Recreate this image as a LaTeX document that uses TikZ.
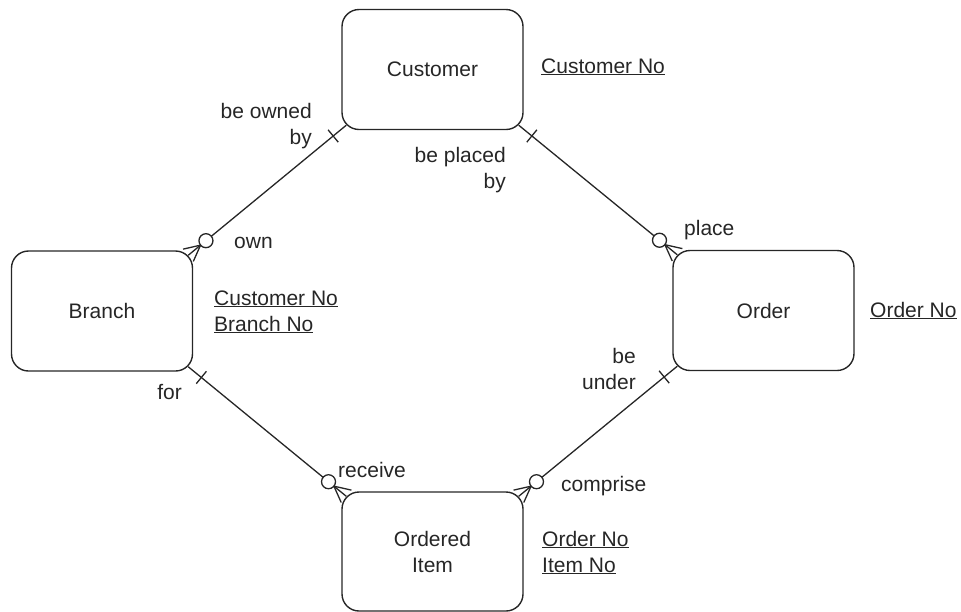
\documentclass[tikz,border=0pt]{standalone}
\usepackage{fontspec}
\setmainfont{Liberation Sans}
\usetikzlibrary{calc}
\newcommand{\erfont}{\fontsize{21}{26}\selectfont}
\tikzset{
  entitybox/.style={draw=black!85,line width=1.4pt,rounded corners=17pt,
    minimum width=181pt,minimum height=120pt,inner sep=0pt,align=center,
    text=black!85,font=\erfont},
  rolelabel/.style={inner sep=0pt,text=black!85,font=\erfont},
  keylabel/.style={inner sep=0pt,text=black!85,font=\erfont,align=left},
  linkline/.style={draw=black!85,line width=1.3pt},
  optcircle/.style={linkline,fill=white}
}

\begin{document}
\begin{tikzpicture}[x=1pt,y=-1pt]
  \useasboundingbox (0,0) rectangle (961,611);
  % entities
  \node[entitybox] (cust) at (432.5,69.5) {Customer};
  \node[entitybox] (branch) at (102,311) {Branch};
  \node[entitybox] (order) at (763.5,310.5) {Order};
  \node[entitybox,minimum height=119pt] (item) at (432.5,551.5) {Ordered\\Item};
  % keys
  \node[keylabel,anchor=base west] (custkey) at (541,73) {\underline{Customer No}};
  \node[keylabel,anchor=base west] (branchkey) at (214,331) {\underline{Customer No}\\\underline{Branch No}};
  \node[keylabel,anchor=base west] (orderkey) at (870,317) {\underline{Order No}};
  \node[keylabel,anchor=base west] (itemkey) at (542,572) {\underline{Order No}\\\underline{Item No}};
  % corner points of the links
  \coordinate (cust-sw) at ($(cust.south west)+(5pt,5pt)$);
  \coordinate (cust-se) at ($(cust.south east)+(-5pt,5pt)$);
  \coordinate (branch-ne) at ($(branch.north east)+(-5pt,-5pt)$);
  \coordinate (branch-se) at ($(branch.south east)+(-5pt,5pt)$);
  \coordinate (order-nw) at ($(order.north west)+(5pt,-5pt)$);
  \coordinate (order-sw) at ($(order.south west)+(5pt,5pt)$);
  \coordinate (item-nw) at ($(item.north west)+(5pt,-5pt)$);
  \coordinate (item-ne) at ($(item.north east)+(-5pt,-5pt)$);
  % relationships: one end (bar) / many end (circle and crow's foot)
  \foreach \one/\many in {cust-sw/branch-ne,cust-se/order-nw,branch-se/item-nw,order-sw/item-ne}{
    \draw[linkline] (\one) -- (\many);
    \draw[linkline] ($(\one)!17pt!(\many)!8pt!90:(\many)$) -- ($(\one)!17pt!(\many)!8pt!-90:(\many)$);
    \draw[linkline] ($(\many)!16pt!(\one)$) -- ($(\many)!8pt!90:(\one)$);
    \draw[linkline] ($(\many)!16pt!(\one)$) -- ($(\many)!8pt!-90:(\one)$);
    \draw[optcircle] ($(\many)!23pt!(\one)$) circle[radius=7pt];
  }
  % role names
  \node[rolelabel,align=right,anchor=base east] (ownedby) at (312,144) {be owned\\by};
  \node[rolelabel,align=right,anchor=base east] (placedby) at (506,188) {be placed\\by};
  \node[rolelabel,anchor=base west] (own) at (234,248) {own};
  \node[rolelabel,anchor=base west] (place) at (684,235) {place};
  \node[rolelabel,align=right,anchor=base east] (beunder) at (636,389) {be\\under};
  \node[rolelabel,anchor=base east] (for) at (182,399) {for};
  \node[rolelabel,anchor=base west] (receive) at (338,477) {receive};
  \node[rolelabel,anchor=base west] (comprise) at (561,491) {comprise};
\end{tikzpicture}
\end{document}
